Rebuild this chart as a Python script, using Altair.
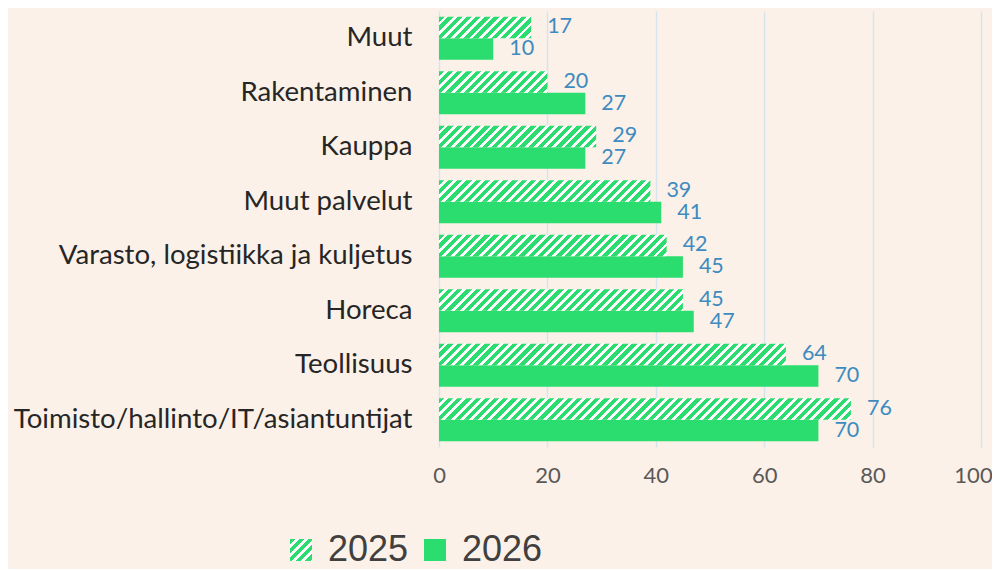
import json
import altair as alt
import pandas as pd

categories = ["Muut", "Rakentaminen", "Kauppa", "Muut palvelut",
              "Varasto, logistiikka ja kuljetus", "Horeca", "Teollisuus",
              "Toimisto/hallinto/IT/asiantuntijat"]
values_2025 = [17, 20, 29, 39, 42, 45, 64, 76]
values_2026 = [10, 27, 27, 41, 45, 47, 70, 70]
years = ["2025", "2026"]
x_ticks = [0, 20, 40, 60, 80, 100]

GREEN = "#2BDD6E"
WHITE = "#FFFFFF"
BG = "#FBF1E8"
LABEL_BLUE = "#3E8BC0"
GRID = "#D5E5F0"

PLOT_W = 542
PLOT_H = 436
X_MAX = 100
PAD_INNER = 0.21
PAD_OUTER = 0.105
STRIPE_PERIOD = 9.2
GREEN_FRAC = 0.58
SYMBOL_SIDE = 22

step = PLOT_H / (len(categories) - PAD_INNER + 2 * PAD_OUTER)
bar_h = step * (1 - PAD_INNER) / 2


def hatch(w, h):
    """Diagonal '///' stripes as a linear gradient in bounding-box units."""
    span = w + h
    n = span / STRIPE_PERIOD
    stops = []
    k = 0
    while k < n:
        a = round(k / n, 5)
        b = round(min((k + GREEN_FRAC) / n, 1), 5)
        c = round(min((k + 1) / n, 1), 5)
        stops += [{"offset": a, "color": GREEN}, {"offset": b, "color": GREEN}]
        if b < 1:
            stops += [{"offset": b, "color": WHITE}, {"offset": c, "color": WHITE}]
        k += 1
    d = w * w + h * h
    return {"gradient": "linear", "x1": 0, "y1": 0,
            "x2": round(w * span / d, 5), "y2": round(h * span / d, 5),
            "stops": stops}


rows = []
for c, a, b in zip(categories, values_2025, values_2026):
    rows.append({"category": c, "year": "2025", "value": a})
    rows.append({"category": c, "year": "2026", "value": b})
df = pd.DataFrame(rows)

y_enc = alt.Y("category:N", sort=categories,
              scale=alt.Scale(paddingInner=PAD_INNER, paddingOuter=PAD_OUTER),
              axis=alt.Axis(title=None, ticks=False, domain=False, grid=False,
                            labelFont="Lato", labelFontSize=27.6, labelColor="#262626",
                            labelPadding=27, labelLimit=500))
yoff_enc = alt.YOffset("year:N", sort=years,
                       scale=alt.Scale(domain=years, paddingInner=0, paddingOuter=0))
x_enc = alt.X("value:Q", scale=alt.Scale(domain=[0, X_MAX], nice=False),
              axis=alt.Axis(title=None, values=x_ticks, ticks=False, domain=False,
                            grid=True, gridColor=GRID, gridWidth=1.5,
                            labelFlush=False,
                            labelOffset=alt.condition("datum.value == 100",
                                                      alt.value(-8), alt.value(0)),
                            labelFont="Lato", labelFontSize=22, labelColor="#595959",
                            labelPadding=18))

legend_grad = hatch(SYMBOL_SIDE, SYMBOL_SIDE)

solid = alt.Chart(df).transform_filter(
    alt.FieldEqualPredicate(field="year", equal="2026")
).mark_bar().encode(
    x=x_enc, y=y_enc, yOffset=yoff_enc,
    color=alt.Color("year:N",
                    scale=alt.Scale(domain=years,
                                    range=[{"expr": json.dumps(legend_grad)}, GREEN]),
                    legend=alt.Legend(title=None, orient="none", direction="horizontal",
                                      legendX=-156, legendY=521,
                                      symbolType="square",
                                      symbolSize=SYMBOL_SIDE * SYMBOL_SIDE,
                                      symbolStrokeWidth=0, symbolOpacity=1,
                                      labelFont="Liberation Sans", labelFontSize=36,
                                      labelColor="#404040", labelOffset=9,
                                      columnPadding=8))
)

layers = [solid]
px_per_unit = PLOT_W / X_MAX
for cat, v in zip(categories, values_2025):
    layers.append(
        alt.Chart(df).transform_filter(
            alt.FieldEqualPredicate(field="category", equal=cat)
        ).transform_filter(
            alt.FieldEqualPredicate(field="year", equal="2025")
        ).mark_bar(fill=hatch(v * px_per_unit, bar_h)).encode(
            x=x_enc, y=y_enc, yOffset=yoff_enc)
    )

labels = alt.Chart(df).mark_text(
    align="left", baseline="middle", dx=16, font="Lato", fontSize=21.5,
    color=LABEL_BLUE
).encode(x=x_enc, y=y_enc, yOffset=yoff_enc, text="value:Q")
layers.append(labels)

chart = alt.layer(*layers).properties(
    width=PLOT_W, height=PLOT_H, background=BG,
    autosize=alt.AutoSizeParams(type="none"),
    padding={"left": 431, "top": 3, "right": 11, "bottom": 122},
).configure_view(stroke=None)

chart.save("out.html", embed_options={"renderer": "svg", "actions": False})
